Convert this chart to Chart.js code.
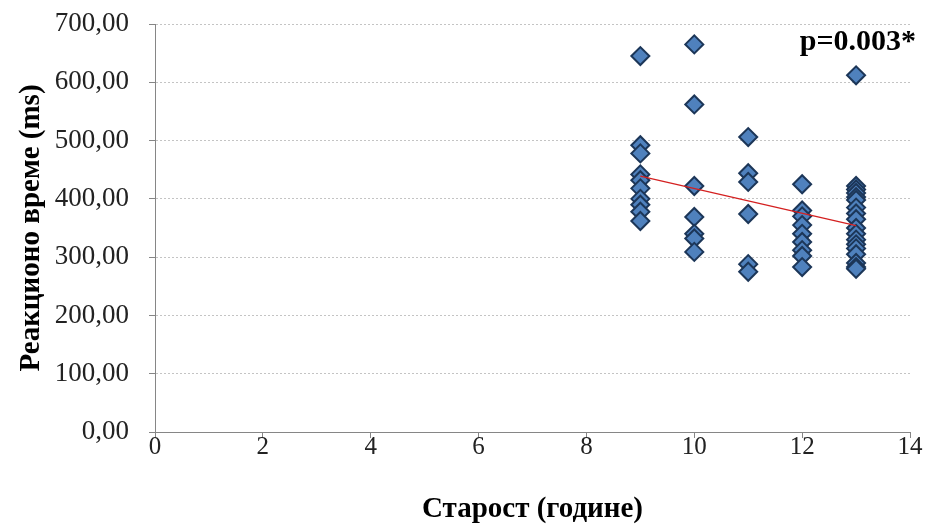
<!DOCTYPE html>
<html>
<head>
<meta charset="utf-8">
<script src="https://cdn.jsdelivr.net/npm/chart.js@4.4.1/dist/chart.umd.min.js"></script>
<style>
  html, body { margin: 0; padding: 0; background: #fff; }
  #wrap { width: 926px; height: 527px; position: relative; }
</style>
</head>
<body>
<div id="wrap"><canvas id="myChart"></canvas></div>
<script>
// reaction time (ms) per age group
const ages = [9, 10, 11, 12, 13];
const times9 = [645, 492, 478, 442, 432, 418, 400, 390, 378, 362];
const times10 = [665, 562, 422, 369, 340, 332, 309];
const times11 = [506, 444, 429, 374, 288, 275];
const times12 = [425, 380, 370, 355, 340, 326, 312, 302, 283];
const times13 = [612, 422, 416, 410, 403, 398, 385, 375, 365, 350, 340, 330, 322, 315, 305, 290, 283, 280];
const yTicks = [0, 100, 200, 300, 400, 500, 600, 700];
const xTicks = [0, 2, 4, 6, 8, 10, 12, 14];
const pLabel = 'p=0.003*';

const groups = [times9, times10, times11, times12, times13];
const points = [];
groups.forEach((g, i) => {
  g.forEach(v => points.push({ x: ages[i], y: v }));
});

// least squares trend line over the same points
const n = points.length;
const mx = points.reduce((s, p) => s + p.x, 0) / n;
const my = points.reduce((s, p) => s + p.y, 0) / n;
let sxy = 0, sxx = 0;
points.forEach(p => { sxy += (p.x - mx) * (p.y - my); sxx += (p.x - mx) * (p.x - mx); });
const slope = sxy / sxx;
const icept = my - slope * mx;
const xMin = Math.min(...ages), xMax = Math.max(...ages);
const trend = [
  { x: xMin, y: icept + slope * xMin },
  { x: xMax, y: icept + slope * xMax }
];

const serif = "'Liberation Serif', 'Times New Roman', serif";

const pText = {
  id: 'pText',
  afterDraw(chart) {
    const ctx = chart.ctx;
    ctx.save();
    ctx.font = 'bold 30px ' + serif;
    ctx.fillStyle = '#000';
    ctx.textAlign = 'right';
    ctx.textBaseline = 'middle';
    ctx.fillText(pLabel, 916, 42);
    ctx.restore();
  }
};

new Chart(document.getElementById('myChart'), {
  type: 'scatter',
  data: {
    datasets: [{
      label: 'trend',
      type: 'line',
      data: trend,
      borderColor: '#d42020',
      borderWidth: 1.3,
      pointRadius: 0,
      fill: false,
      order: 0
    }, {
      label: 'Реакционо време',
      data: points,
      pointStyle: 'rectRot',
      pointRadius: 9,
      pointHoverRadius: 9,
      backgroundColor: '#4f81bd',
      borderColor: '#1c3658',
      borderWidth: 2,
      order: 1
    }]
  },
  options: {
    responsive: true,
    maintainAspectRatio: false,
    animation: false,
    layout: { padding: { top: 24, right: 16, left: 0, bottom: 0 } },
    plugins: {
      legend: { display: false },
      tooltip: { enabled: false }
    },
    scales: {
      x: {
        type: 'linear',
        min: 0,
        max: 14,
        afterBuildTicks: s => { s.ticks = xTicks.map(v => ({ value: v })); },
        afterFit: s => { s.height = 95; },
        ticks: {
          font: { family: serif, size: 25 },
          color: '#222',
          padding: -6,
          maxRotation: 0
        },
        grid: {
          drawOnChartArea: false,
          drawTicks: true,
          tickLength: 6,
          color: '#868686',
          tickColor: '#868686'
        },
        border: { color: '#868686', width: 1 },
        title: {
          display: true,
          text: 'Старост (године)',
          font: { family: serif, size: 29, weight: 'bold' },
          color: '#000',
          padding: { top: 0, bottom: 0 }
        }
      },
      y: {
        min: 0,
        max: 700,
        afterBuildTicks: s => { s.ticks = yTicks.map(v => ({ value: v })); },
        afterFit: s => { s.width = 155; s.paddingTop = 0; s.paddingBottom = 0; },
        ticks: {
          font: { family: serif, size: 27 },
          color: '#222',
          padding: 20,
          callback: v => v.toFixed(2).replace('.', ',')
        },
        grid: {
          color: '#c4c4c4',
          lineWidth: 1,
          drawTicks: true,
          tickLength: 6,
          tickColor: '#868686',
          tickBorderDash: []
        },
        border: { color: '#868686', width: 1, dash: [2, 2] },
        title: {
          display: true,
          text: 'Реакционо време (ms)',
          font: { family: serif, size: 29, weight: 'bold' },
          color: '#000',
          padding: { top: 14, bottom: 0 }
        }
      }
    }
  },
  plugins: [pText]
});
</script>
</body>
</html>
